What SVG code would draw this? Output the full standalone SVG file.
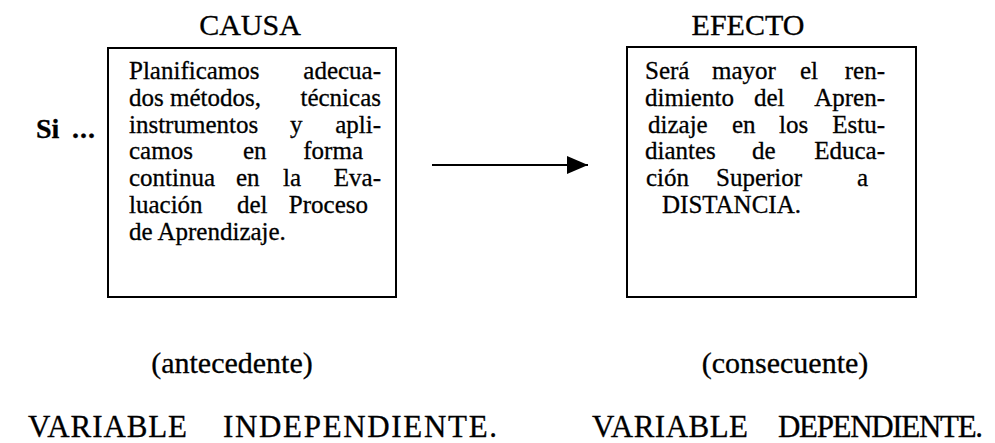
<svg xmlns="http://www.w3.org/2000/svg" width="995" height="443" viewBox="0 0 995 443" font-family="'Liberation Serif', Tinos, 'Times New Roman', serif">
<style>
text{font-family:'Liberation Serif',Tinos,'Times New Roman',serif;fill:#000;stroke:#000;stroke-width:0.3}
.t{font-size:25px}
.h{font-size:30px}
.v{font-size:31px}
.box{fill:#fff;stroke:#000;stroke-width:2}
</style>
<defs>
<marker id="ah" markerWidth="21" markerHeight="18" refX="21" refY="9" orient="auto" markerUnits="userSpaceOnUse">
<polygon points="0,0 21,9 0,18" fill="#000"/>
</marker>
</defs>
<rect width="995" height="443" fill="#fff"/>
<g id="si"><text x="36" y="138" style="font-size:28px;font-weight:bold">Si<tspan x="72" letter-spacing="1">...</tspan></text></g>
<g id="causa">
<text class="h" x="250" y="35" text-anchor="middle">CAUSA</text>
<rect class="box" x="108" y="48" width="288" height="249"/>
<text class="t" y="79"><tspan x="129">Planificamos</tspan><tspan x="381" text-anchor="end">adecua-</tspan></text>
<text class="t" y="106"><tspan x="129">dos métodos,</tspan><tspan x="381" text-anchor="end">técnicas</tspan></text>
<text class="t" y="133"><tspan x="129">instrumentos</tspan><tspan x="290">y</tspan><tspan x="381" text-anchor="end">apli-</tspan></text>
<text class="t" y="159"><tspan x="129">camos</tspan><tspan x="243">en</tspan><tspan x="363" text-anchor="end">forma</tspan></text>
<text class="t" y="186"><tspan x="129">continua</tspan><tspan x="236">en</tspan><tspan x="283">la</tspan><tspan x="381" text-anchor="end">Eva-</tspan></text>
<text class="t" y="213"><tspan x="129">luación</tspan><tspan x="237">del</tspan><tspan x="368" text-anchor="end">Proceso</tspan></text>
<text class="t" y="240" x="129">de Aprendizaje.</text>
</g>
<g id="efecto">
<text class="h" x="748" y="35" text-anchor="middle">EFECTO</text>
<rect class="box" x="627" y="47" width="289" height="250"/>
<text class="t" y="79"><tspan x="645">Será</tspan><tspan x="712">mayor</tspan><tspan x="800">el</tspan><tspan x="885" text-anchor="end">ren-</tspan></text>
<text class="t" y="106"><tspan x="645">dimiento</tspan><tspan x="754">del</tspan><tspan x="885" text-anchor="end">Apren-</tspan></text>
<text class="t" y="133"><tspan x="648">dizaje</tspan><tspan x="732">en</tspan><tspan x="779">los</tspan><tspan x="885" text-anchor="end">Estu-</tspan></text>
<text class="t" y="159"><tspan x="645">diantes</tspan><tspan x="752">de</tspan><tspan x="885" text-anchor="end">Educa-</tspan></text>
<text class="t" y="186"><tspan x="646">ción</tspan><tspan x="716">Superior</tspan><tspan x="857">a</tspan></text>
<text class="t" y="213" x="662">DISTANCIA.</text>
</g>
<g id="connectors">
<line x1="432" y1="165" x2="588" y2="165" stroke="#000" stroke-width="2" marker-end="url(#ah)"/>
</g>
<g id="labels">
<text class="h" x="232" y="373" text-anchor="middle">(antecedente)</text>
<text class="h" x="785" y="373" text-anchor="middle">(consecuente)</text>
<text class="v" y="437"><tspan x="28" textLength="159">VARIABLE</tspan><tspan x="223" textLength="274">INDEPENDIENTE.</tspan></text>
<text class="v" y="437"><tspan x="592" textLength="156">VARIABLE</tspan><tspan x="778" textLength="205">DEPENDIENTE.</tspan></text>
</g>
</svg>
